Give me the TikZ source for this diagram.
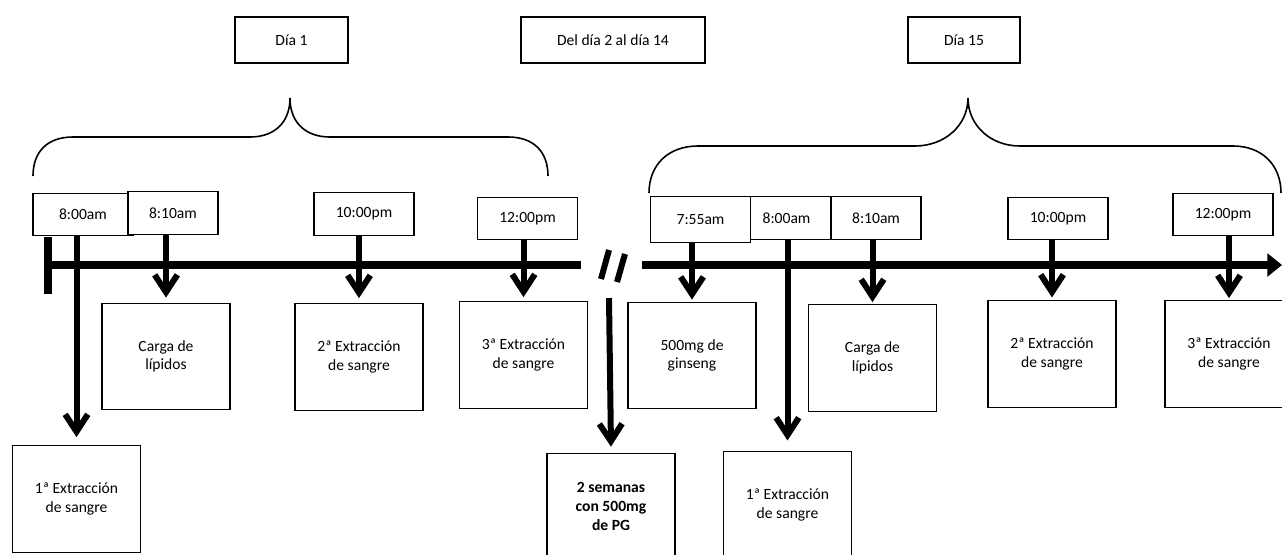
\documentclass[tikz,border=0pt]{standalone}
\usepackage{fontspec}
\setmainfont{Carlito}
\usetikzlibrary{arrows.meta, calc}

\begin{document}
\begin{tikzpicture}[x=0.75pt, y=-0.75pt, font=\fontsize{11.7}{14}\selectfont,
    daybox/.style={draw, line width=1.5pt, minimum height=34.5pt, inner sep=0pt},
    timebox/.style={draw, fill=white, line width=0.8pt, minimum height=32pt, minimum width=75pt, inner sep=0pt},
    evbox/.style={draw, line width=0.8pt, minimum width=96pt, minimum height=80pt, align=center, inner sep=0pt},
    evarrow/.style={line width=4.5pt, -{Straight Barb[length=13pt,width=17pt]}},
    axis/.style={line width=6pt},
    brace/.style={line width=1.2pt}]

    \useasboundingbox (0,0) rectangle (1282,554);

    \node[daybox, minimum width=84.75pt] (d1) at (291.5,40) {Día 1};
    \node[daybox, minimum width=138pt] (d2) at (613,40) {Del día 2 al día 14};
    \node[daybox, minimum width=84pt] (d15) at (964,40) {Día 15};

    \draw[brace] (33,176) .. controls (33,152) and (47,137) .. (73,137) -- (250,137)
        .. controls (275,137) and (290,122) .. (290,98)
        .. controls (290,122) and (305,137) .. (330,137) -- (508,137)
        .. controls (534,137) and (548,152) .. (548,176);
    \draw[brace] (649,193) .. controls (649,165) and (668,146) .. (698,146) -- (915,146)
        .. controls (945,146) and (968,125) .. (968,98)
        .. controls (968,125) and (990,146) .. (1020,146) -- (1233,146)
        .. controls (1262,146) and (1281,165) .. (1281,193);

    \node[timebox] (t1a) at (83,214.5) {8:00am};
    \node[timebox, minimum width=67.5pt] (t1b) at (173,213) {8:10am};
    \node[timebox] (t1c) at (364,214) {10:00pm};
    \node[timebox] (t1d) at (527.5,218.5) {12:00pm};
    \node[timebox, minimum width=67.5pt] (t2b) at (786.5,218) {8:00am};
    \node[timebox, minimum height=34pt] (t2a) at (700.5,219.5) {7:55am};
    \node[timebox, minimum width=67.5pt] (t2c) at (876,218) {8:10am};
    \node[timebox] (t2d) at (1058,218.5) {10:00pm};
    \node[timebox] (t2e) at (1223,214.5) {12:00pm};

    \node[evbox] (e1a) at (76.5,499) {1ª Extracción\\de sangre};
    \node[evbox] (e1b) at (166,356.5) {Carga de\\lípidos};
    \node[evbox] (e1c) at (359,357) {2ª Extracción\\de sangre};
    \node[evbox] (e1d) at (523.5,355) {3ª Extracción\\de sangre};
    \node[evbox] (pg) at (611,506.5) {\textbf{2 semanas}\\\textbf{con 500mg}\\\textbf{de PG}};
    \node[evbox] (e2a) at (692,355.5) {500mg de\\ginseng};
    \node[evbox] (e2b) at (787.5,505) {1ª Extracción\\de sangre};
    \node[evbox] (e2c) at (872.5,358) {Carga de\\lípidos};
    \node[evbox] (e2d) at (1052,354) {2ª Extracción\\de sangre};
    \node[evbox] (e2e) at (1229,354) {3ª Extracción\\de sangre};

    \coordinate (a0) at (48,265);
    \coordinate (a1) at (581,265);
    \coordinate (a2) at (642,265);
    \coordinate (a3) at (1282,265);
    \coordinate (brk) at (609,298);

    \draw[axis] (a0) -- (a1);
    \draw[axis, -{Triangle[length=11pt,width=17pt]}] (a2) -- (a3);
    \draw[axis] (48,237) -- (48,294);
    \draw[line width=4.5pt] (601,279) -- (609,250);
    \draw[line width=4.5pt] (617,282) -- (625,254);

    \draw[evarrow] (t1a.south -| e1a.north) -- ([yshift=6pt]e1a.north);
    \draw[evarrow] (t1b.south -| e1b.north) -- ([yshift=3.75pt]e1b.north);
    \draw[evarrow] (t1c.south -| e1c.north) -- ([yshift=3.75pt]e1c.north);
    \draw[evarrow] (t1d.south -| e1d.north) -- ([yshift=3pt]e1d.north);
    \draw[evarrow] (brk) -- ([yshift=4.5pt]pg.north);
    \draw[evarrow] (t2a.south -| e2a.north) -- ([yshift=1.5pt]e2a.north);
    \draw[evarrow] (t2b.south -| e2b.north) -- ([yshift=8pt]e2b.north);
    \draw[evarrow] (t2c.south -| e2c.north) -- ([yshift=1.5pt]e2c.north);
    \draw[evarrow] (t2d.south -| e2d.north) -- ([yshift=2pt]e2d.north);
    \draw[evarrow] (t2e.south -| e2e.north) -- ([yshift=1.5pt]e2e.north);

\end{tikzpicture}
\end{document}
